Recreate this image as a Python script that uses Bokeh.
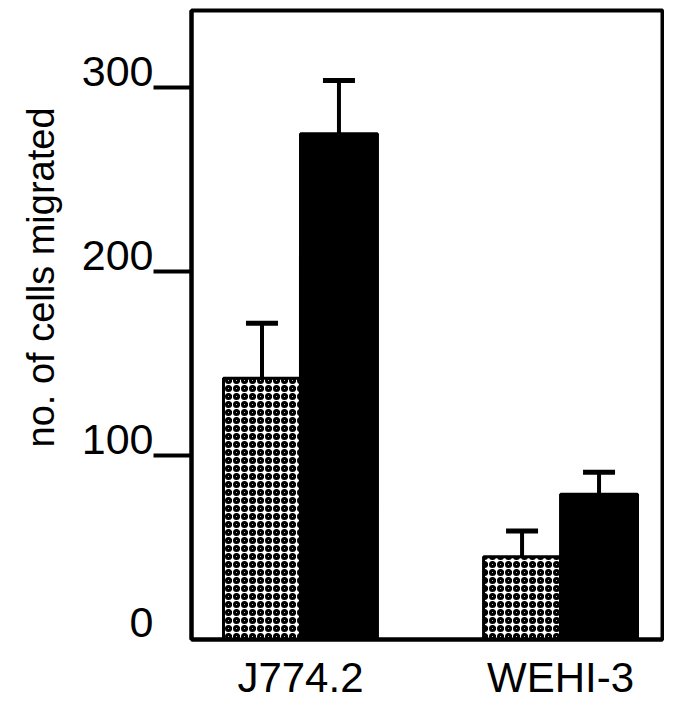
from bokeh.plotting import figure
from bokeh.models import ColumnDataSource, Range1d, FixedTicker, Whisker, TeeHead, Title
from bokeh.embed import file_html
from bokeh.resources import INLINE

# ---- data ----
cell_lines = ["J774.2", "WEHI-3"]
control_mean = [142, 45]
control_err = [30, 14]
treated_mean = [275, 79]
treated_err = [29, 12]
y_ticks = [0, 100, 200, 300]

FONT = "Liberation Sans"
bar_w = 0.296
x_start, x_end = -0.419, 1.392
label_lift = 9  # tick labels sit just above their tick mark
idx = list(range(len(cell_lines)))

ctrl_src = ColumnDataSource(dict(
    x=[i - bar_w / 2 for i in idx], top=control_mean,
    upper=[m + e for m, e in zip(control_mean, control_err)]))
trt_src = ColumnDataSource(dict(
    x=[i + bar_w / 2 for i in idx], top=treated_mean,
    upper=[m + e for m, e in zip(treated_mean, treated_err)]))

p = figure(width=664, height=704, output_backend="svg", toolbar_location=None,
           x_range=Range1d(x_start, x_end), y_range=Range1d(0, 342),
           min_border_left=191, min_border_right=2, min_border_top=10,
           min_border_bottom=65)
p.background_fill_color = "white"
p.border_fill_color = "white"
p.outline_line_color = "black"
p.outline_line_width = 4
p.xgrid.visible = False
p.ygrid.visible = False

# bars
p.vbar(x="x", top="top", width=bar_w, source=ctrl_src,
       fill_color="white", line_color="black", line_width=3,
       hatch_pattern="ring", hatch_color="black", hatch_scale=8, hatch_weight=3)
p.vbar(x="x", top="top", width=bar_w, source=trt_src,
       fill_color="black", line_color="black", line_width=3)

# error bars (upper only)
for src in (ctrl_src, trt_src):
    w = Whisker(base="x", lower="top", upper="upper", source=src,
                line_color="black", line_width=4,
                upper_head=TeeHead(size=32, line_width=5, line_color="black"),
                lower_head=None)
    p.add_layout(w)

# x axis
p.xaxis.ticker = FixedTicker(ticks=idx)
p.xaxis.major_label_overrides = {i: name for i, name in zip(idx, cell_lines)}
p.xaxis.major_label_text_font = FONT
p.xaxis.major_label_text_font_size = "42px"
p.xaxis.major_label_text_color = "black"
p.xaxis.major_tick_out = 0
p.xaxis.major_tick_in = 0
p.xaxis.major_tick_line_color = None
p.xaxis.minor_tick_line_color = None
p.xaxis.axis_line_width = 4
p.xaxis.major_label_standoff = 14

# y axis: tick marks as (fixed) minor ticks, labels lifted above each tick
p.yaxis.ticker = FixedTicker(ticks=[t + label_lift for t in y_ticks],
                             minor_ticks=[t for t in y_ticks if t > 0])
p.yaxis.major_label_overrides = {t + label_lift: str(t) for t in y_ticks}
p.yaxis.major_tick_line_color = None
p.yaxis.major_tick_out = 0
p.yaxis.major_tick_in = 0
p.yaxis.minor_tick_out = 38
p.yaxis.minor_tick_in = 0
p.yaxis.minor_tick_line_width = 4
p.yaxis.minor_tick_line_color = "black"
p.yaxis.axis_line_width = 4
p.yaxis.major_label_standoff = 0
p.yaxis.axis_label_standoff = 0
p.yaxis.major_label_text_font = FONT
p.yaxis.major_label_text_font_size = "43px"
p.yaxis.major_label_text_color = "black"

ytitle = Title(text="no. of cells migrated", align="left", offset=192,
               text_font=FONT, text_font_size="38px", text_font_style="normal",
               text_color="black", standoff=33)
p.add_layout(ytitle, "left")

open("out.html", "w").write(file_html(p, INLINE))
